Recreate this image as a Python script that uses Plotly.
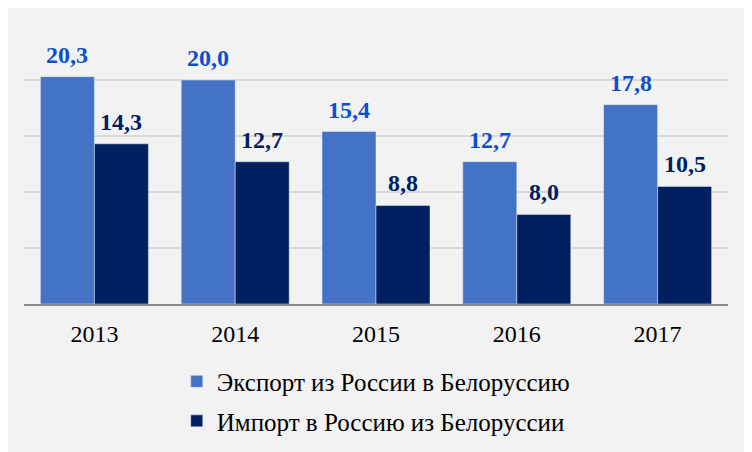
import plotly.graph_objects as go

years = ['2013', '2014', '2015', '2016', '2017']
export_vals = [20.3, 20.0, 15.4, 12.7, 17.8]
import_vals = [14.3, 12.7, 8.8, 8.0, 10.5]
export_name = 'Экспорт из России в Белоруссию'
import_name = 'Импорт в Россию из Белоруссии'

serif = '"Liberation Serif", "DejaVu Serif", serif'
pos = list(range(len(years)))

fig = go.Figure()
fig.add_trace(go.Bar(x=pos, y=export_vals, name=export_name,
                     marker_color='#4472C4', legendgroup='a'))
fig.add_trace(go.Bar(x=pos, y=import_vals, name=import_name,
                     marker_color='#002060', legendgroup='b'))

# value labels above the bars, comma as decimal separator
def fmt(v):
    return f'{v:.1f}'.replace('.', ',')

for i, v in zip(pos, export_vals):
    fig.add_annotation(x=i, y=v, text='<b>' + fmt(v) + '</b>', showarrow=False,
                       xshift=-27, yshift=7, yanchor='bottom',
                       font=dict(family=serif, size=24, color='#0B4FCF'))
for i, v in zip(pos, import_vals):
    fig.add_annotation(x=i, y=v, text='<b>' + fmt(v) + '</b>', showarrow=False,
                       xshift=27, yshift=7, yanchor='bottom',
                       font=dict(family=serif, size=24, color='#002060'))

# the page body adds 8px offset, so margins are shifted to compensate
fig.update_layout(
    width=752, height=452,
    margin=dict(l=16, r=32, t=16, b=156),
    paper_bgcolor='#F2F2F2', plot_bgcolor='#F2F2F2',
    barmode='group', bargap=0.233, bargroupgap=0,
    font=dict(family=serif, color='#000000'),
    legend=dict(orientation='v', x=0.217, xanchor='left', y=-0.195, yanchor='top',
                font=dict(family=serif, size=25, color='#000000'),
                tracegroupgap=4),
)
fig.update_xaxes(range=[-0.5, len(years) - 0.5], tickvals=pos, ticktext=years,
                 showline=True, linecolor='#898989', linewidth=2, showgrid=False,
                 zeroline=False, ticks='outside', ticklen=7, tickcolor='rgba(0,0,0,0)',
                 tickfont=dict(family=serif, size=24, color='#000000'))
fig.update_yaxes(range=[0, 25], dtick=5, showticklabels=False, zeroline=False,
                 gridcolor='#D9D9D9', gridwidth=1.5)

fig.write_html('out.html')
